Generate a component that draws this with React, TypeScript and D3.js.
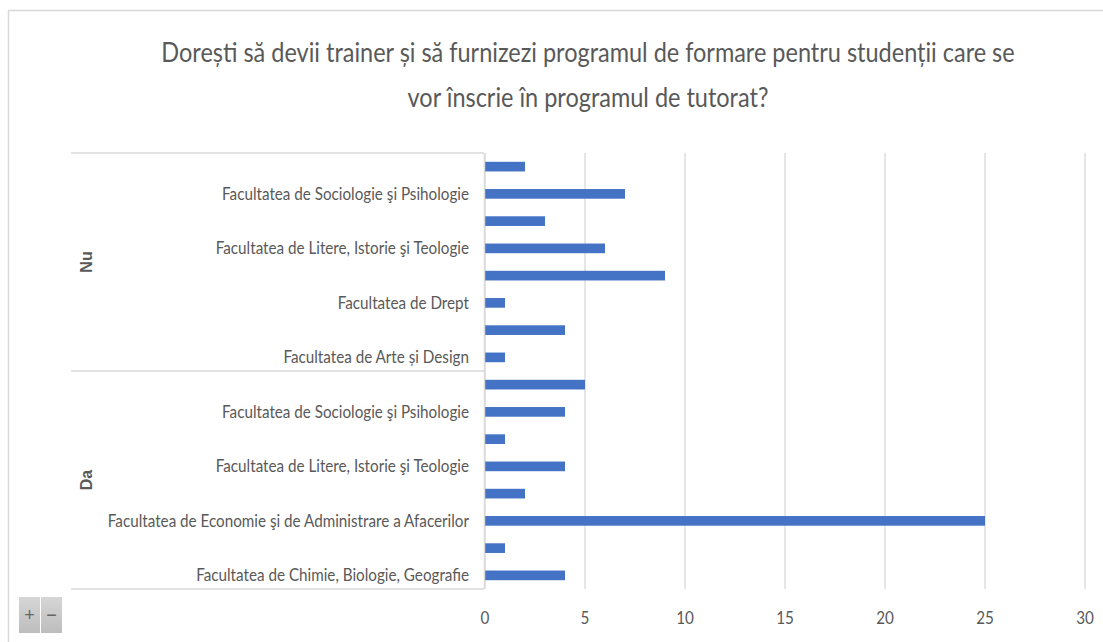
import React from "react";
import * as d3 from "d3";

const title = [
  "Dorești să devii trainer și să furnizezi programul de formare pentru studenții care se",
  "vor înscrie în programul de tutorat?",
];

// Groups from top to bottom
const groups = ["Nu", "Da"];

// Category labels, top to bottom within each group ("" = label not shown in the reference)
const nuLabels = [
  "",
  "Facultatea de Sociologie şi Psihologie",
  "",
  "Facultatea de Litere, Istorie şi Teologie",
  "",
  "Facultatea de Drept",
  "",
  "Facultatea de Arte și Design",
];
const daLabels = [
  "",
  "Facultatea de Sociologie şi Psihologie",
  "",
  "Facultatea de Litere, Istorie şi Teologie",
  "",
  "Facultatea de Economie şi de Administrare a Afacerilor",
  "",
  "Facultatea de Chimie, Biologie, Geografie",
];

const nuValues = [2, 7, 3, 6, 9, 1, 4, 1];
const daValues = [5, 4, 1, 4, 2, 25, 1, 4];

const xTicks = [0, 5, 10, 15, 20, 25, 30];

const W = 1103;
const H = 642;
const FONT = "Lato, 'Liberation Sans', sans-serif";
const TEXT = "#595959";
const GRID = "#d9d9d9";
const BAR = "#4472C4";
const SX = 0.87; // condensed look of the reference lettering

function SText({
  x,
  y,
  anchor,
  size,
  sx = SX,
  children,
}: {
  x: number;
  y: number;
  anchor: "start" | "middle" | "end";
  size: number;
  sx?: number;
  children: React.ReactNode;
}) {
  return (
    <g transform={`translate(${x},${y}) scale(${sx},1)`}>
      <text x={0} y={0} textAnchor={anchor} fontFamily={FONT} fontSize={size} fill={TEXT}>
        {children}
      </text>
    </g>
  );
}

export default function App() {
  const rows = [
    ...nuLabels.map((l, i) => ({ group: "Nu", label: l, value: nuValues[i] })),
    ...daLabels.map((l, i) => ({ group: "Da", label: l, value: daValues[i] })),
  ].map((d, i) => ({ ...d, key: String(i) }));

  const plotTop = 153;
  const plotBottom = 589;
  const x = d3.scaleLinear().domain([0, 30]).range([485, 1085]);
  const y = d3
    .scaleBand<string>()
    .domain(rows.map((r) => r.key))
    .range([plotTop, plotBottom])
    .paddingInner(0)
    .paddingOuter(0);
  const barH = y.step() * 0.355;

  const groupBounds = groups.map((g) => {
    const keys = rows.filter((r) => r.group === g).map((r) => r.key);
    const y0 = y(keys[0])!;
    const y1 = y(keys[keys.length - 1])! + y.step();
    return { g, y0, y1 };
  });

  return (
    <svg
      width={W}
      height={H}
      style={{ position: "absolute", left: 0, top: 0, background: "#fff" }}
    >
      <rect x={8.5} y={10.5} width={1200} height={700} fill="#fff" stroke={GRID} strokeWidth={1.5} />

      {title.map((t, i) => (
        <SText key={i} x={588} y={62 + i * 45} anchor="middle" size={27}>
          {t}
        </SText>
      ))}

      {/* gridlines */}
      {xTicks.map((t) => (
        <line
          key={t}
          x1={x(t)}
          x2={x(t)}
          y1={plotTop}
          y2={plotBottom}
          stroke={GRID}
          strokeWidth={1.3}
        />
      ))}

      {/* bars */}
      {rows.map((r) => (
        <rect
          key={r.key}
          x={x(0)}
          y={y(r.key)! + (y.step() - barH) / 2}
          width={x(r.value) - x(0)}
          height={barH}
          fill={BAR}
        />
      ))}

      {/* category axis lines */}
      <line x1={x(0) - 0.5} x2={x(0) - 0.5} y1={plotTop} y2={plotBottom} stroke={GRID} strokeWidth={1.5} />
      {[groupBounds[0].y0, groupBounds[0].y1, groupBounds[1].y1].map((yy, i) => (
        <line key={i} x1={71} x2={484} y1={yy} y2={yy} stroke={GRID} strokeWidth={1.5} />
      ))}

      {/* category labels */}
      {rows.map((r) =>
        r.label ? (
          <SText key={r.key} x={469} y={y(r.key)! + y.step() / 2 + 6} anchor="end" size={17.5}>
            {r.label}
          </SText>
        ) : null
      )}

      {/* group labels */}
      {groupBounds.map((b) => (
        <text
          key={b.g}
          transform={`translate(86,${(b.y0 + b.y1) / 2}) rotate(-90)`}
          dy="0.36em"
          textAnchor="middle"
          fontFamily="'Liberation Sans', Arial, sans-serif"
          fontWeight="bold"
          fontSize={16}
          fill={TEXT}
        >
          {b.g}
        </text>
      ))}

      {/* value axis labels */}
      {xTicks.map((t) => (
        <SText key={t} x={x(t)} y={624} anchor="middle" size={17.5}>
          {t}
        </SText>
      ))}

      {/* zoom buttons */}
      <defs>
        <linearGradient id="btn" x1="0" y1="0" x2="0" y2="1">
          <stop offset="0" stopColor="#d6d6d6" />
          <stop offset="1" stopColor="#bdbdbd" />
        </linearGradient>
      </defs>
      <rect x={19} y={597} width={21} height={36} fill="url(#btn)" />
      <rect x={41} y={597} width={21} height={36} fill="url(#btn)" />
      <text x={29.5} y={615} dy="0.36em" textAnchor="middle" fontFamily="'Liberation Sans', Arial, sans-serif" fontSize={18} fill="#666">
        +
      </text>
      <text x={51.5} y={615} dy="0.36em" textAnchor="middle" fontFamily="'Liberation Sans', Arial, sans-serif" fontSize={18} fill="#666">
        −
      </text>
    </svg>
  );
}
